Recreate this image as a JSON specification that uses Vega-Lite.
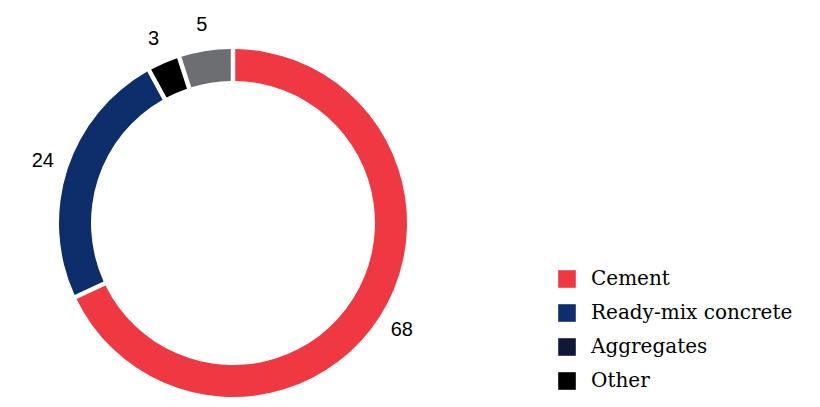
{
  "$schema": "https://vega.github.io/schema/vega-lite/v6.json",
  "width": 466,
  "height": 376,
  "padding": {"left": 0, "top": 15, "right": 0, "bottom": 0},
  "autosize": {"type": "pad"},
  "background": "white",
  "config": {"view": {"stroke": null}},
  "data": {
    "values": [
      {"category": "Cement", "value": 68, "order": 1},
      {"category": "Ready-mix concrete", "value": 24, "order": 2},
      {"category": "Aggregates", "value": 3, "order": 3},
      {"category": "Other", "value": 5, "order": 4}
    ]
  },
  "layer": [
    {
      "mark": {"type": "arc", "outerRadius": 0, "innerRadius": 0},
      "encoding": {
        "theta": {"field": "value", "type": "quantitative", "stack": true},
        "order": {"field": "order", "type": "quantitative"},
        "color": {
          "field": "category",
          "type": "nominal",
          "scale": {
            "domain": ["Cement", "Ready-mix concrete", "Aggregates", "Other"],
            "range": ["#EF3842", "#0D2E6B", "#0F1838", "#000000"]
          },
          "legend": {
            "orient": "none",
            "legendX": 557,
            "legendY": 234,
            "title": null,
            "symbolType": "square",
            "symbolSize": 310,
            "symbolStrokeWidth": 0,
            "labelFont": "DejaVu Serif",
            "labelFontSize": 20,
            "labelColor": "black",
            "labelOffset": 14,
            "labelLimit": 300,
            "rowPadding": 14,
            "padding": 0
          }
        }
      }
    },
    {
      "mark": {"type": "arc", "outerRadius": 174, "innerRadius": 142, "padAngle": 0.02},
      "encoding": {
        "theta": {"field": "value", "type": "quantitative", "stack": true},
        "order": {"field": "order", "type": "quantitative"},
        "fill": {
          "field": "category",
          "type": "nominal",
          "scale": {
            "domain": ["Cement", "Ready-mix concrete", "Aggregates", "Other"],
            "range": ["#EF3842", "#0D2E6B", "#000000", "#6D6E72"]
          },
          "legend": null
        }
      }
    },
    {
      "mark": {"type": "text", "radius": 200, "font": "Liberation Sans", "fontSize": 20, "fill": "black"},
      "encoding": {
        "theta": {"field": "value", "type": "quantitative", "stack": true},
        "order": {"field": "order", "type": "quantitative"},
        "text": {"field": "value", "type": "quantitative"}
      }
    }
  ],
  "resolve": {"scale": {"color": "independent", "fill": "independent"}}
}
